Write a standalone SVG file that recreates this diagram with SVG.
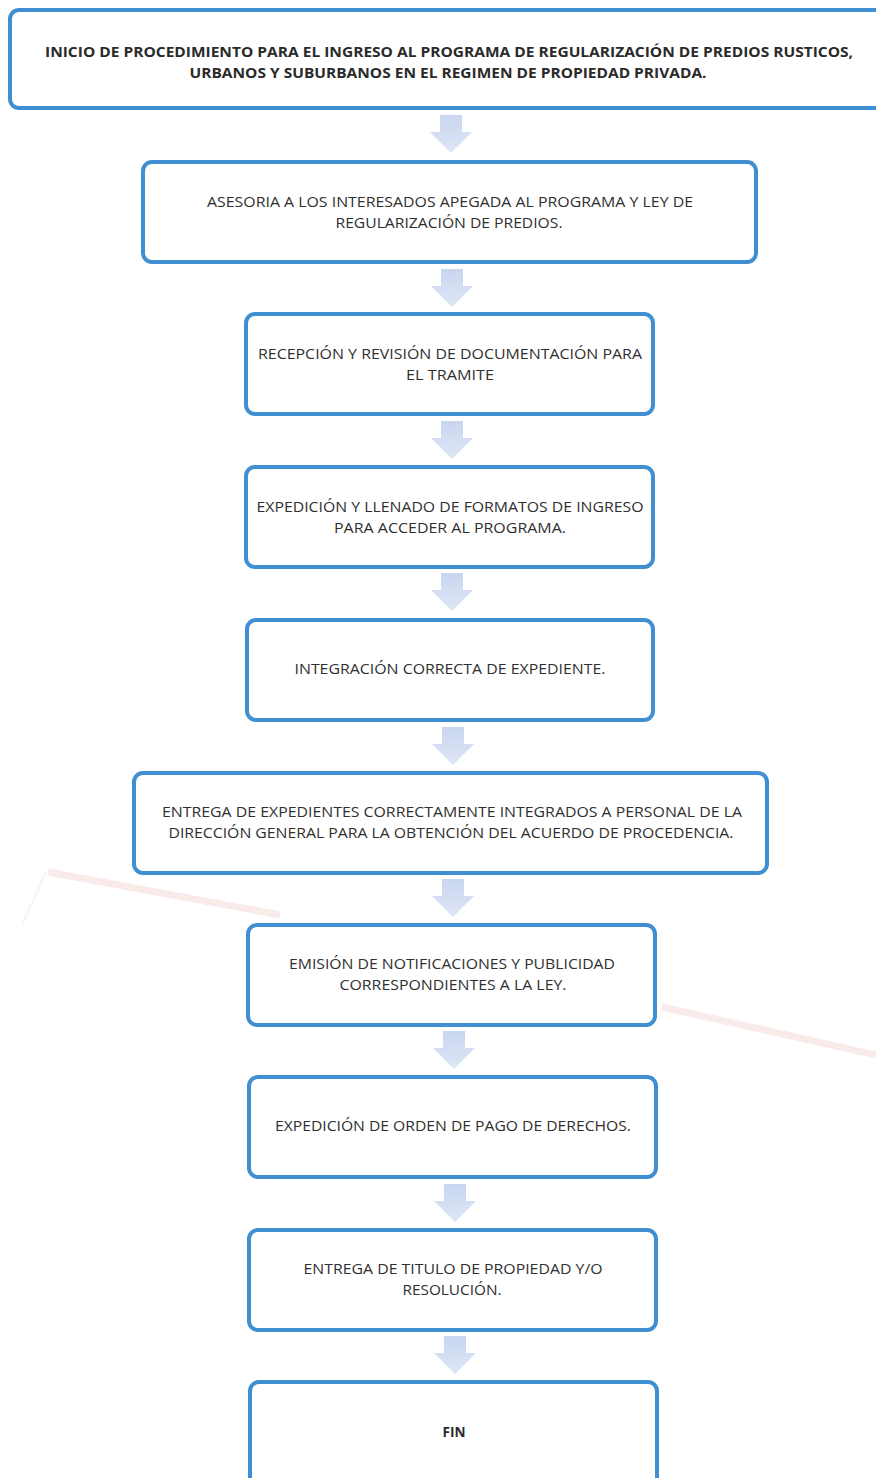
<svg xmlns="http://www.w3.org/2000/svg" width="876" height="1478" viewBox="0 0 876 1478">
<defs>
<style>
.box{fill:#ffffff;stroke:#3f8fd2;stroke-width:4}
.t{font-family:"Open Sans","Liberation Sans",sans-serif;font-size:14px;fill:#2f2f2f;text-anchor:middle}
.b{font-weight:bold;fill:#2a2a2a}
.arr{fill:url(#ag)}
</style>
<linearGradient id="ag" x1="0" y1="0" x2="0" y2="1">
<stop offset="0" stop-color="#c9d6f0"/>
<stop offset="1" stop-color="#dde6f6"/>
</linearGradient>
<path id="arrow" d="M-11,0 H11 V17 H21 L0,38 L-21,17 H-11 Z"/>
</defs>
<rect width="876" height="1478" fill="#ffffff"/>
<g id="watermark" opacity="0.35">
<path d="M48,872 L280,915" stroke="#f2c6c6" stroke-width="7" fill="none"/>
<path d="M662,1007 L876,1055" stroke="#f2c6c6" stroke-width="7" fill="none"/>
<path d="M46,872 L22,925" stroke="#e4e4e4" stroke-width="2" fill="none"/>
</g>
<g id="connectors">
<use href="#arrow" class="arr" x="451" y="115"/>
<use href="#arrow" class="arr" x="452" y="269"/>
<use href="#arrow" class="arr" x="452" y="421"/>
<use href="#arrow" class="arr" x="452" y="573"/>
<use href="#arrow" class="arr" x="453" y="727"/>
<use href="#arrow" class="arr" x="453" y="879"/>
<use href="#arrow" class="arr" x="454" y="1031"/>
<use href="#arrow" class="arr" x="455" y="1184"/>
<use href="#arrow" class="arr" x="455" y="1336"/>
</g>
<g id="n1">
<rect class="box" x="10" y="10" width="880" height="98" rx="9"/>
<text class="t b" x="449" y="57" textLength="808" lengthAdjust="spacingAndGlyphs">INICIO DE PROCEDIMIENTO PARA EL INGRESO AL PROGRAMA DE REGULARIZACIÓN DE PREDIOS RUSTICOS,</text>
<text class="t b" x="448" y="78" textLength="517" lengthAdjust="spacingAndGlyphs">URBANOS Y SUBURBANOS EN EL REGIMEN DE PROPIEDAD PRIVADA.</text>
</g>
<g id="n2">
<rect class="box" x="143" y="162" width="613" height="100" rx="9"/>
<text class="t" x="450" y="207" textLength="486" lengthAdjust="spacingAndGlyphs">ASESORIA A LOS INTERESADOS APEGADA AL PROGRAMA Y LEY DE</text>
<text class="t" x="449" y="228" textLength="227" lengthAdjust="spacingAndGlyphs">REGULARIZACIÓN DE PREDIOS.</text>
</g>
<g id="n3">
<rect class="box" x="246" y="314" width="407" height="100" rx="9"/>
<text class="t" x="450" y="359" textLength="384" lengthAdjust="spacingAndGlyphs">RECEPCIÓN Y REVISIÓN DE DOCUMENTACIÓN PARA</text>
<text class="t" x="450" y="380" textLength="88" lengthAdjust="spacingAndGlyphs">EL TRAMITE</text>
</g>
<g id="n4">
<rect class="box" x="246" y="467" width="407" height="100" rx="9"/>
<text class="t" x="450" y="512" textLength="387" lengthAdjust="spacingAndGlyphs">EXPEDICIÓN Y LLENADO DE FORMATOS DE INGRESO</text>
<text class="t" x="450" y="533" textLength="232" lengthAdjust="spacingAndGlyphs">PARA ACCEDER AL PROGRAMA.</text>
</g>
<g id="n5">
<rect class="box" x="247" y="620" width="406" height="100" rx="9"/>
<text class="t" x="450" y="674" textLength="311" lengthAdjust="spacingAndGlyphs">INTEGRACIÓN CORRECTA DE EXPEDIENTE.</text>
</g>
<g id="n6">
<rect class="box" x="134" y="773" width="633" height="100" rx="9"/>
<text class="t" x="452" y="817" textLength="580" lengthAdjust="spacingAndGlyphs">ENTREGA DE EXPEDIENTES CORRECTAMENTE INTEGRADOS A PERSONAL DE LA</text>
<text class="t" x="451" y="838" textLength="565" lengthAdjust="spacingAndGlyphs">DIRECCIÓN GENERAL PARA LA OBTENCIÓN DEL ACUERDO DE PROCEDENCIA.</text>
</g>
<g id="n7">
<rect class="box" x="248" y="925" width="407" height="100" rx="9"/>
<text class="t" x="452" y="969" textLength="326" lengthAdjust="spacingAndGlyphs">EMISIÓN DE NOTIFICACIONES Y PUBLICIDAD</text>
<text class="t" x="453" y="990" textLength="227" lengthAdjust="spacingAndGlyphs">CORRESPONDIENTES A LA LEY.</text>
</g>
<g id="n8">
<rect class="box" x="249" y="1077" width="407" height="100" rx="9"/>
<text class="t" x="453" y="1131" textLength="356" lengthAdjust="spacingAndGlyphs">EXPEDICIÓN DE ORDEN DE PAGO DE DERECHOS.</text>
</g>
<g id="n9">
<rect class="box" x="249" y="1230" width="407" height="100" rx="9"/>
<text class="t" x="453" y="1274" textLength="299" lengthAdjust="spacingAndGlyphs">ENTREGA DE TITULO DE PROPIEDAD Y/O</text>
<text class="t" x="452" y="1295" textLength="99" lengthAdjust="spacingAndGlyphs">RESOLUCIÓN.</text>
</g>
<g id="n10">
<rect class="box" x="250" y="1382" width="407" height="110" rx="9"/>
<text class="t b" x="454" y="1437" font-size="12" textLength="23" lengthAdjust="spacingAndGlyphs">FIN</text>
</g>
</svg>
